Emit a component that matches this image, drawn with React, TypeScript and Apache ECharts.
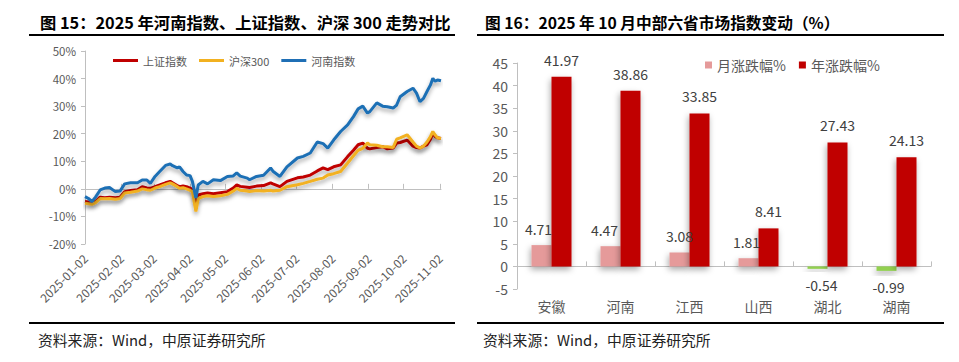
import React, { useEffect, useRef } from 'react';
import * as echarts from 'echarts';

// ---------- Figure 15 data (cumulative change, %) ----------
const dates = [
  '2025-01-02', '2025-01-05', '2025-01-08', '2025-01-11', '2025-01-15', '2025-01-19', '2025-01-23', '2025-01-28',
  '2025-02-01', '2025-02-05', '2025-02-10', '2025-02-16', '2025-02-20', '2025-02-24', '2025-02-27', '2025-03-03',
  '2025-03-07', '2025-03-12', '2025-03-16', '2025-03-18', '2025-03-22', '2025-03-24', '2025-03-27', '2025-03-30',
  '2025-04-02', '2025-04-04', '2025-04-07', '2025-04-09', '2025-04-13', '2025-04-17', '2025-04-22', '2025-04-28',
  '2025-05-04', '2025-05-09', '2025-05-12', '2025-05-15', '2025-05-21', '2025-05-23', '2025-05-29', '2025-06-04',
  '2025-06-10', '2025-06-12', '2025-06-18', '2025-06-24', '2025-07-03', '2025-07-08', '2025-07-14', '2025-07-20',
  '2025-07-25', '2025-07-29', '2025-08-03', '2025-08-09', '2025-08-15', '2025-08-20', '2025-08-24', '2025-08-28',
  '2025-09-01', '2025-09-03', '2025-09-09', '2025-09-14', '2025-09-18', '2025-09-23', '2025-09-26', '2025-09-29',
  '2025-10-05', '2025-10-10', '2025-10-13', '2025-10-16', '2025-10-19', '2025-10-22', '2025-10-25', '2025-10-27',
  '2025-10-29', '2025-10-31', '2025-11-03'
];
const shIndex = [
  -4.6, -4.8, -5.0, -4.5, -3.0, -3.2, -3.0, -3.2,
  -3.0, -1.0, -0.6, -0.3, 0.8, 0.3, 0.2, 0.8,
  1.4, 2.2, 2.7, 2.2, 1.2, 0.8, 1.0, 0.8,
  0.3, -0.3, -5.0, -2.2, -1.8, -1.5, -1.8, -1.4,
  -1.0, 0.3, 1.4, 0.9, 0.6, 0.5, 1.0, 1.2,
  2.2, 1.8, 0.8, 2.7, 4.0, 4.3, 5.0, 6.5,
  7.6, 7.0, 8.0, 8.7, 11.7, 14.0, 16.0, 16.6,
  14.7, 14.5, 15.0, 15.3, 14.5, 14.8, 16.6, 16.8,
  17.7, 15.5, 15.0, 14.8, 15.5, 16.0, 18.0, 20.2,
  19.0, 18.5, 18.3
];
const hs300 = [
  -5.2, -5.4, -5.6, -5.0, -3.5, -3.6, -3.5, -3.8,
  -3.5, -1.5, -1.2, -0.8, 0.0, -0.3, -0.5, 0.3,
  0.8, 1.6, 2.2, 1.8, 0.8, 0.2, 0.4, 0.0,
  -0.5, -1.0, -8.2, -3.5, -2.8, -2.5, -2.8, -2.5,
  -2.0, -0.8, 0.2, -0.5, -0.8, -1.0, -0.6, -0.8,
  -0.5, -0.8, -0.5, 0.8, 1.5, 2.0, 2.7, 3.5,
  3.9, 5.0, 5.5, 6.3, 9.4, 12.0, 14.0, 14.7,
  16.6, 16.0, 15.8, 15.3, 15.3, 15.0, 18.0, 18.5,
  19.6, 17.0, 15.5, 14.8, 15.5, 17.0, 19.0, 20.8,
  19.5, 18.5, 18.3
];
const henanIndex = [
  -2.8, -3.5, -4.6, -3.0, -0.4, 0.3, 0.5, -1.0,
  -0.8, 1.8, 2.2, 2.2, 3.2, 3.2, 2.0, 4.5,
  6.3, 8.5, 9.0, 8.4, 7.6, 8.0, 6.3, 5.0,
  4.8, 2.7, -3.3, 1.4, 2.7, 1.8, 3.3, 3.0,
  4.5, 4.7, 5.8, 4.6, 3.9, 3.3, 4.5, 4.9,
  7.6, 6.4, 4.5, 8.0, 11.2, 11.8, 13.0, 17.0,
  16.4, 14.8, 17.7, 20.8, 23.2, 26.2, 29.0, 30.0,
  27.5, 28.0, 31.2, 30.0, 29.8, 29.3, 30.4, 33.4,
  35.3, 36.5, 34.7, 31.6, 32.8, 35.3, 37.7, 40.1,
  39.0, 39.5, 39.2
];
const monthTicks = [
  '2025-01-02', '2025-02-02', '2025-03-02', '2025-04-02', '2025-05-02', '2025-06-02',
  '2025-07-02', '2025-08-02', '2025-09-02', '2025-10-02', '2025-11-02'
];
const leftYTicks = { min: -20, max: 50, interval: 10 };

// ---------- Figure 16 data (%) ----------
const provinces = ['安徽', '河南', '江西', '山西', '湖北', '湖南'];
const monthChange = [4.71, 4.47, 3.08, 1.81, -0.54, -0.99];
const yearChange = [41.97, 38.86, 33.85, 8.41, 27.43, 24.13];
const rightYTicks = { min: -5, max: 45, interval: 5 };

const ts = (s: string) => Date.UTC(+s.slice(0, 4), +s.slice(5, 7) - 1, +s.slice(8, 10));
const FONT = '"Noto Sans CJK SC", "Noto Sans", sans-serif';

export default function App() {
  const ref = useRef<HTMLDivElement>(null);
  useEffect(() => {
    if (!ref.current) return;
    const chart = echarts.init(ref.current, undefined, { renderer: 'svg' });
    const tickLabelMap: Record<string, string> = {};
    monthTicks.forEach((d) => (tickLabelMap[String(ts(d))] = d));
    const tmin = ts('2025-01-02');
    const tmax = ts('2025-11-03');
    const tickVals = monthTicks.map(ts);
    const lineShadow = { shadowColor: 'rgba(0,0,0,0.35)', shadowBlur: 4, shadowOffsetY: 3 };
    const barShadow = { shadowColor: 'rgba(0,0,0,0.35)', shadowBlur: 6, shadowOffsetX: -1, shadowOffsetY: 3 };
    const labelOffsets: number[][] = [[-3, 0], [-6, 0], [0, 0], [-2, 0], [4, 0], [2, 0]];

    chart.setOption({
      animation: false,
      textStyle: { fontFamily: FONT },
      grid: [
        { left: 85, top: 51, width: 356, height: 193 },
        { left: 517, top: 63, width: 414, height: 226 },
      ],
      legend: [
        {
          data: ['上证指数', '沪深300', '河南指数'],
          left: 108, top: 50, icon: 'rect', itemWidth: 25, itemHeight: 3, itemGap: 12,
          textStyle: { fontSize: 11, color: '#595959', fontFamily: FONT },
        },
        {
          data: ['月涨跌幅%', '年涨跌幅%'],
          left: 700, top: 53, icon: 'rect', itemWidth: 7, itemHeight: 7, itemGap: 13,
          textStyle: { fontSize: 14, color: '#595959', fontFamily: FONT },
        },
      ],
      xAxis: [
        {
          type: 'value', gridIndex: 0, min: tmin, max: tmax, position: 'bottom',
          axisLine: { show: false, onZero: false }, axisTick: { show: false }, splitLine: { show: false },
          axisLabel: {
            customValues: tickVals,
            formatter: (v: number) => tickLabelMap[String(Math.round(v))] ?? '',
            rotate: 45, margin: 12, fontSize: 12, color: '#595959', hideOverlap: false,
          },
        },
        {
          type: 'value', gridIndex: 0, min: tmin, max: tmax, position: 'bottom',
          axisLine: { show: true, onZero: true, lineStyle: { color: '#BFBFBF', width: 1 } },
          axisTick: { show: true, customValues: tickVals, inside: true, length: 5, lineStyle: { color: '#BFBFBF' } },
          axisLabel: { show: false }, splitLine: { show: false },
        },
        {
          type: 'category', gridIndex: 1, data: provinces, position: 'bottom',
          axisLine: { show: false, onZero: false }, axisTick: { show: false },
          axisLabel: { fontSize: 14, color: '#595959', margin: 10, interval: 0 },
        },
        {
          type: 'category', gridIndex: 1, data: provinces, position: 'bottom',
          axisLine: { show: true, onZero: true, lineStyle: { color: '#BFBFBF' } },
          axisTick: { show: true, inside: true, length: 5, lineStyle: { color: '#BFBFBF' } },
          axisLabel: { show: false },
        },
      ],
      yAxis: [
        {
          type: 'value', gridIndex: 0, ...leftYTicks,
          axisLine: { show: true, lineStyle: { color: '#BFBFBF' } },
          axisTick: { show: true, length: 4, lineStyle: { color: '#BFBFBF' } },
          axisLabel: { formatter: '{value}%', fontSize: 11.5, color: '#595959', margin: 9 },
          splitLine: { show: false },
        },
        {
          type: 'value', gridIndex: 1, ...rightYTicks,
          axisLine: { show: true, lineStyle: { color: '#BFBFBF' } },
          axisTick: { show: true, length: 4, lineStyle: { color: '#BFBFBF' } },
          axisLabel: { fontSize: 14, color: '#595959', margin: 9 },
          splitLine: { show: false },
        },
      ],
      series: [
        {
          name: '上证指数', type: 'line', xAxisIndex: 0, yAxisIndex: 0, showSymbol: false,
          data: dates.map((d, i) => [ts(d), shIndex[i]]), color: '#C00000',
          lineStyle: { width: 3, color: '#C00000', ...lineShadow },
        },
        {
          name: '沪深300', type: 'line', xAxisIndex: 0, yAxisIndex: 0, showSymbol: false,
          data: dates.map((d, i) => [ts(d), hs300[i]]), color: '#F2B120',
          lineStyle: { width: 3, color: '#F2B120', ...lineShadow },
        },
        {
          name: '河南指数', type: 'line', xAxisIndex: 0, yAxisIndex: 0, showSymbol: false,
          data: dates.map((d, i) => [ts(d), henanIndex[i]]), color: '#1F6FB5',
          lineStyle: { width: 3, color: '#1F6FB5', ...lineShadow },
        },
        {
          name: '月涨跌幅%', type: 'bar', xAxisIndex: 2, yAxisIndex: 1, barWidth: 20, barGap: '0%',
          color: '#E59A9A',
          data: monthChange.map((v, i) => ({
            value: v,
            itemStyle: { color: v < 0 ? '#92D050' : '#E59A9A', ...barShadow },
            label: { position: v < 0 ? 'bottom' : 'top', offset: labelOffsets[i] },
          })),
          label: { show: true, fontSize: 14, color: '#404040', distance: 9 },
        },
        {
          name: '年涨跌幅%', type: 'bar', xAxisIndex: 2, yAxisIndex: 1, barWidth: 20, barGap: '0%',
          color: '#C00000',
          itemStyle: { color: '#C00000', ...barShadow },
          data: yearChange,
          label: { show: true, position: 'top', fontSize: 14, color: '#404040', distance: 10 },
        },
      ],
      graphic: [
        {
          type: 'text', x: 40, y: 22,
          style: { text: '图 15：2025 年河南指数、上证指数、沪深 300 走势对比', fontSize: 16.3, fontWeight: 'bold', fontFamily: FONT, fill: '#000', verticalAlign: 'middle' },
        },
        {
          type: 'text', x: 485, y: 22,
          style: { text: '图 16：2025 年 10 月中部六省市场指数变动（%）', fontSize: 15.7, fontWeight: 'bold', fontFamily: FONT, fill: '#000', verticalAlign: 'middle' },
        },
        { type: 'line', shape: { x1: 29, y1: 35, x2: 455, y2: 35 }, style: { stroke: '#000', lineWidth: 2 } },
        { type: 'line', shape: { x1: 477, y1: 35, x2: 944, y2: 35 }, style: { stroke: '#000', lineWidth: 2 } },
        { type: 'line', shape: { x1: 29, y1: 323, x2: 455, y2: 323 }, style: { stroke: '#000', lineWidth: 2 } },
        { type: 'line', shape: { x1: 477, y1: 323, x2: 944, y2: 323 }, style: { stroke: '#000', lineWidth: 2 } },
        {
          type: 'text', x: 38, y: 339,
          style: { text: '资料来源：Wind，中原证券研究所', fontSize: 14.8, fontFamily: FONT, fill: '#222', verticalAlign: 'middle' },
        },
        {
          type: 'text', x: 483, y: 339,
          style: { text: '资料来源：Wind，中原证券研究所', fontSize: 14.8, fontFamily: FONT, fill: '#222', verticalAlign: 'middle' },
        },
      ],
    });
    return () => chart.dispose();
  }, []);
  return (
    <div
      ref={ref}
      style={{ position: 'fixed', left: 0, top: 0, width: 959, height: 362, background: '#fff' }}
    />
  );
}
